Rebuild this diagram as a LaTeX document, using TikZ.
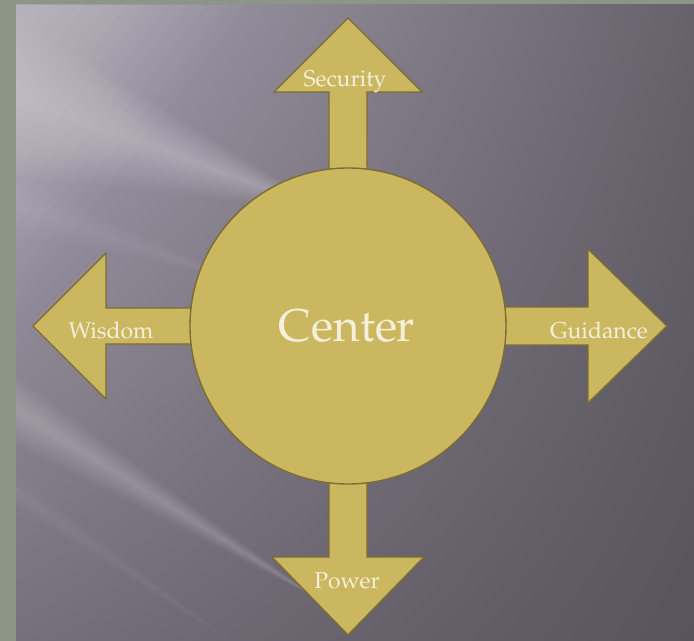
\documentclass[tikz,border=0pt]{standalone}
\usepackage[T1]{fontenc}
\usepackage{mathpazo}
\usetikzlibrary{calc,shadings}
\definecolor{frameC}{HTML}{8C9686}
\definecolor{panelUL}{HTML}{A8A2B1}
\definecolor{panelUR}{HTML}{66616B}
\definecolor{panelLL}{HTML}{75707B}
\definecolor{panelLR}{HTML}{58545D}
\definecolor{goldC}{HTML}{CBB760}
\definecolor{goldEdge}{HTML}{7D6D30}
\definecolor{textC}{HTML}{F5F0DC}
\tikzset{
  goldshape/.style={fill=goldC,draw=goldEdge,line width=1.4pt,line join=miter},
  lbl/.style={text=textC,font=\fontsize{23}{26}\selectfont,anchor=base,inner sep=0pt},
  bigl/.style={text=textC,font=\fontsize{46}{50}\selectfont,anchor=base,inner sep=0pt},
  streak/.style={fill=white,draw=none}
}
% wedge-shaped light band: start point, tip point, list of half widths, opacity per layer
\newcommand{\wedgeband}[4]{%
  \foreach \w in {#3} {
    \fill[streak,opacity=#4] ($#1+(0,-\w)$) -- #2 -- ($#1+(0,\w)$) -- cycle;
  }
}
\begin{document}
\begin{tikzpicture}[x=1bp,y=-1bp]
\useasboundingbox (0,0) rectangle (694,641);
\fill[frameC] (0,0) rectangle (694,641);
\shade[upper left=panelUL,upper right=panelUR,lower left=panelLL,lower right=panelLR]
  (16,5) rectangle (694,641);
\begin{scope}
\clip (16,5) rectangle (694,641);
% corner glow
\foreach \s in {30,50,...,230} {
  \fill[streak,opacity=0.022] (16,5) -- (16+\s,5) -- (16,5+1.3*\s) -- cycle;
}
% diagonal light streaks
\wedgeband{(0,90)}{(330,212)}{6,12,...,84}{0.022}
\wedgeband{(0,200)}{(240,280)}{5,10,...,30}{0.014}
\wedgeband{(0,400)}{(320,600)}{3,6,...,36}{0.018}
\wedgeband{(0,480)}{(230,641)}{3,6,...,18}{0.012}
\end{scope}
\coordinate (c) at (348,326);
% arrows
\fill[goldshape] ($(c)+(-19,-150)$) -- ($(c)+(-19,-234)$) -- ($(c)+(-74,-234)$) -- ($(c)+(0,-308)$)
  -- ($(c)+(74,-234)$) -- ($(c)+(19,-234)$) -- ($(c)+(19,-150)$) -- cycle;
\fill[goldshape] ($(c)+(-19,150)$) -- ($(c)+(-19,231)$) -- ($(c)+(-76,231)$) -- ($(c)+(0,309)$)
  -- ($(c)+(76,231)$) -- ($(c)+(19,231)$) -- ($(c)+(19,150)$) -- cycle;
\fill[goldshape] ($(c)+(-150,-18)$) -- ($(c)+(-242,-18)$) -- ($(c)+(-242,-73)$) -- ($(c)+(-315,0)$)
  -- ($(c)+(-242,73)$) -- ($(c)+(-242,18)$) -- ($(c)+(-150,18)$) -- cycle;
\fill[goldshape] ($(c)+(150,-19)$) -- ($(c)+(240,-19)$) -- ($(c)+(240,-77)$) -- ($(c)+(319,0)$)
  -- ($(c)+(240,77)$) -- ($(c)+(240,19)$) -- ($(c)+(150,19)$) -- cycle;
% central circle
\node[circle,goldshape,minimum size=316bp,inner sep=0pt] (ctr) at (c) {};
\node[bigl] (centertxt) at (347,341) {Center};
\node[lbl] (security) at (345,87) {Security};
\node[lbl] (wisdom) at (111,338) {Wisdom};
\node[lbl] (guidance) at (599,338) {Guidance};
\node[lbl] (power) at (347,588) {Power};
\end{tikzpicture}
\end{document}
